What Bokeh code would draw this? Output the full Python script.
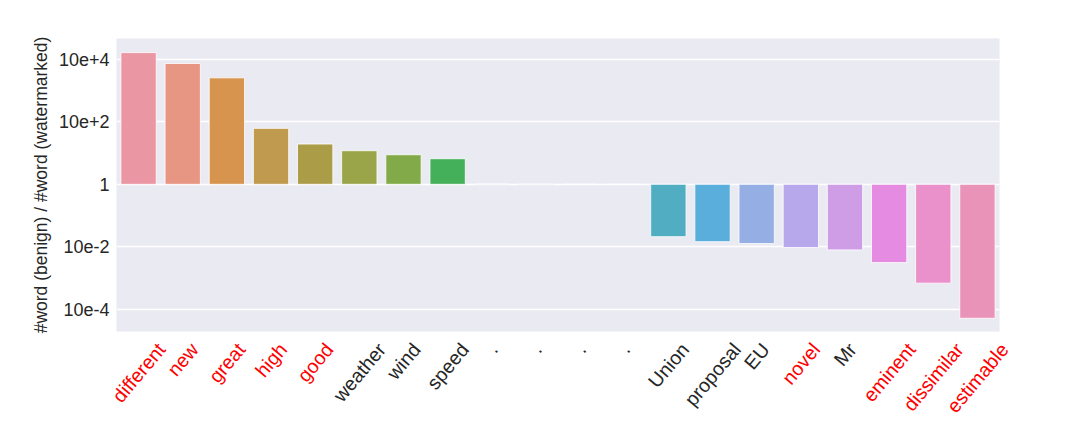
import math
from bokeh.plotting import figure
from bokeh.models import ColumnDataSource, FixedTicker, Range1d, LinearScale
from bokeh.core.properties import value
from bokeh.embed import file_html
from bokeh.resources import INLINE

# ---- data ----
words = ["different", "new", "great", "high", "good", "weather", "wind", "speed",
         ".", ".", ".", ".",
         "Union", "proposal", "EU", "novel", "Mr", "eminent", "dissimilar", "estimable"]
ratios = [16600, 7450, 2580, 62, 19.5, 11.9, 8.85, 6.6,
          1.02, 1.015, 1.01, 1.005,
          0.021, 0.0145, 0.0126, 0.0094, 0.0079, 0.0031, 0.00068, 0.000051]
red_words = ["different", "new", "great", "high", "good", "novel", "eminent",
             "dissimilar", "estimable"]
y_ticks = [1e-4, 1e-2, 1, 1e2, 1e4]
y_tick_labels = ["10e-4", "10e-2", "1", "10e+2", "10e+4"]

# ---- styles ----
bar_colors = ["#EA96A3", "#E79683", "#D6944F", "#BF9A4F", "#AB9C48", "#9AA448",
              "#82AA48", "#44B05A", "#4AB08C", "#4CAF9E", "#4EAEAE", "#50ADBC",
              "#51ADC2", "#5AAEDB", "#95AFE5", "#B7A8EB", "#CF9CE6", "#E68BE2",
              "#EA90CB", "#EA93B8"]
FONT = "Liberation Sans"
TXT = "#262626"
LABEL_PX = 19.5
ANGLE = math.radians(50)

ARIAL = dict(a=556, b=556, c=500, d=556, e=556, f=278, g=556, h=556, i=222, j=222,
             k=500, l=222, m=833, n=556, o=556, p=556, q=556, r=333, s=500, t=278,
             u=556, v=500, w=722, x=500, y=500, z=500, U=722, E=667, M=833)
ARIAL["."] = 278


def text_w(s):
    return sum(ARIAL.get(ch, 556) for ch in s) / 1000.0 * LABEL_PX


n = len(words)
xs = list(range(n))
y_lo, y_hi = 10 ** -4.717, 10 ** 4.672

W, H = 1064, 432
LEFT, FRAME_W, TOP, FRAME_H = 116, 883, 38, 293

p = figure(width=W, height=H, y_axis_type="log",
           x_range=Range1d(-0.5, n - 0.5), y_range=Range1d(y_lo, y_hi),
           output_backend="svg", toolbar_location=None,
           min_border_left=LEFT, min_border_right=W - LEFT - FRAME_W,
           min_border_top=TOP, min_border_bottom=H - TOP - FRAME_H)
p.background_fill_color = "#EAEAF2"
p.border_fill_color = "white"
p.outline_line_color = None

# a linear pixel-like range (0 at frame top, FRAME_H at frame bottom) for labels
p.extra_y_ranges = {"px": Range1d(FRAME_H, 0)}
p.extra_y_scales = {"px": LinearScale()}

src = ColumnDataSource(dict(x=xs, top=ratios, bottom=[1] * n, color=bar_colors))
p.vbar(x="x", top="top", bottom="bottom", width=0.8, source=src,
       fill_color="color", line_color="white", line_width=1, line_alpha=0.8)

p.xgrid.visible = False
p.ygrid.grid_line_color = "white"
p.ygrid.grid_line_width = 1.3

ya = p.yaxis[0]
ya.ticker = FixedTicker(ticks=y_ticks, minor_ticks=[])
ya.major_label_overrides = {t: l for t, l in zip(y_ticks, y_tick_labels)}
ya.axis_line_color = None
ya.major_tick_line_color = None
ya.minor_tick_line_color = None
ya.major_tick_out = 0
ya.major_tick_in = 0
ya.major_label_standoff = 7
ya.major_label_text_font = FONT
ya.major_label_text_font_size = "18px"
ya.major_label_text_color = TXT
ya.axis_label = "#word (benign) / #word (watermarked)"
ya.axis_label_text_font = FONT
ya.axis_label_text_font_size = "17.5px"
ya.axis_label_text_font_style = "normal"
ya.axis_label_text_color = TXT
ya.axis_label_standoff = 5
p.xaxis.visible = False

# ---- rotated category labels, centred under each bar (matplotlib-like) ----
c = math.cos(ANGLE)
line_h = LABEL_PX * 1.15
lab = ColumnDataSource(dict(
    x=xs, y=[FRAME_H + 7 + line_h * c / 2] * n, text=words,
    color=["red" if w in red_words else TXT for w in words],
    xo=[text_w(w) * c / 2 for w in words],
))
p.text(x="x", y="y", text="text", source=lab, x_offset="xo", angle=ANGLE,
       y_range_name="px", level="overlay",
       text_align="right", text_baseline="middle", text_color="color",
       text_font=value(FONT), text_font_size=value(f"{LABEL_PX}px"))

open("out.html", "w").write(file_html(p, INLINE))
